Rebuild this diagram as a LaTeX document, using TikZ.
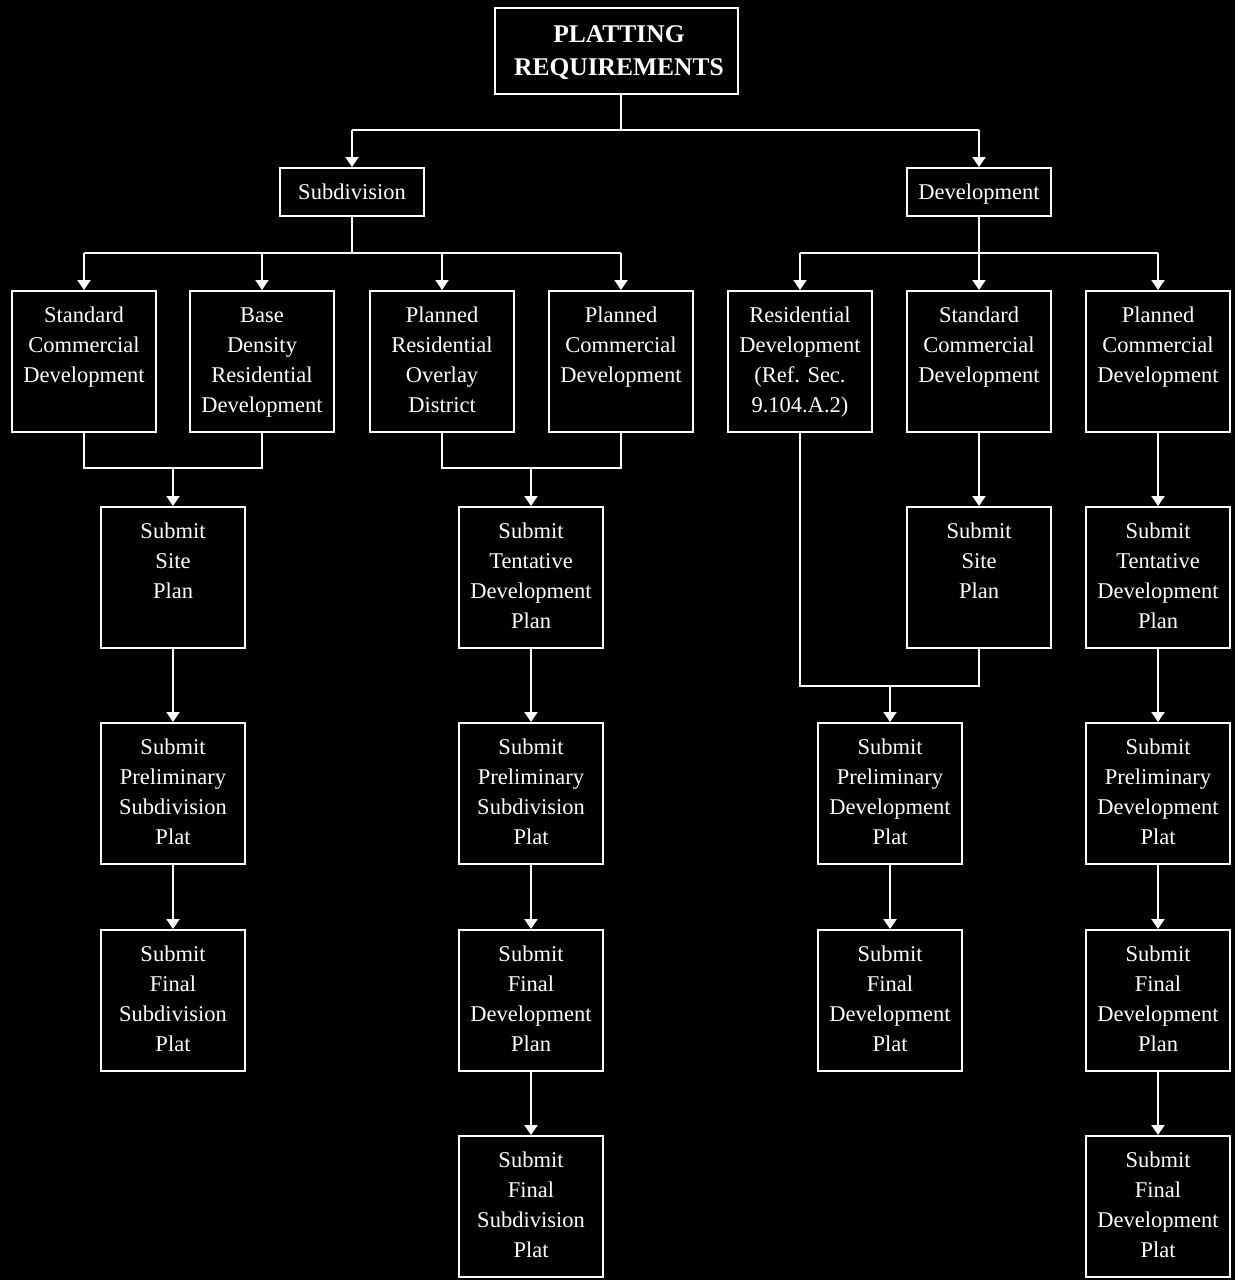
\documentclass[tikz,border=0pt]{standalone}
\usepackage{fontspec}
\setmainfont{Liberation Serif}
\usetikzlibrary{arrows.meta}
\begin{document}
\begin{tikzpicture}[x=1pt,y=-1pt,
 box/.style={draw=white,line width=2pt,minimum width=144pt,minimum height=141pt,inner sep=0pt},
 sbox/.style={draw=white,line width=2pt,minimum width=144pt,minimum height=48pt,inner sep=0pt,text=white,text height=20pt,text depth=5pt,font=\fontsize{22.5}{30}\selectfont},
 tbox/.style={draw=white,line width=2pt,minimum width=243pt,minimum height=86pt,inner sep=0pt},
 ttxt/.style={text=white,align=center,inner sep=0pt,font=\fontsize{25.5}{33}\selectfont\bfseries},
 txt/.style={text=white,align=center,inner sep=0pt,anchor=north,font=\fontsize{22.5}{30}\selectfont},
 ln/.style={draw=white,line width=2pt},
 arr/.style={draw=white,line width=2pt,-{Triangle[width=13pt,length=10pt]}}]
\fill[black] (0,0) rectangle (1235,1280);
% top
\node[tbox] (title) at (616.5,51) {};
\node[ttxt] (ttl) at (619,53) {PLATTING\\REQUIREMENTS};
\node[sbox] (sub) at (352,192) {Subdivision};
\node[sbox] (dev) at (979,192) {Development};
% row 2
\node[box] (b1) at (84,361.5) {};
\node[box] (b2) at (262,361.5) {};
\node[box] (b3) at (442,361.5) {};
\node[box] (b4) at (621,361.5) {};
\node[box] (b5) at (800,361.5) {};
\node[box] (b6) at (979,361.5) {};
\node[box] (b7) at (1158,361.5) {};
\node[txt] (t1) at (84,307) {Standard\\Commercial\\Development};
\node[txt] (t2) at (262,308) {Base\\Density\\Residential\\Development};
\node[txt] (t3) at (442,307) {Planned\\Residential\\Overlay\\District};
\node[txt] (t4) at (621,307) {Planned\\Commercial\\Development};
\node[txt] (t5) at (800,307) {Residential\\Development\\(Ref. Sec.\\9.104.A.2)};
\node[txt] (t6) at (979,307) {Standard\\Commercial\\Development};
\node[txt] (t7) at (1158,307) {Planned\\Commercial\\Development};
% row 3
\node[box] (c1) at (173,577.5) {};
\node[box] (c2) at (531,577.5) {};
\node[box] (c3) at (979,577.5) {};
\node[box] (c4) at (1158,577.5) {};
\node[txt] (u1) at (173,523) {Submit\\Site\\Plan};
\node[txt] (u2) at (531,523) {Submit\\Tentative\\Development\\Plan};
\node[txt] (u3) at (979,523) {Submit\\Site\\Plan};
\node[txt] (u4) at (1158,523) {Submit\\Tentative\\Development\\Plan};
% row 4
\node[box] (d1) at (173,793.5) {};
\node[box] (d2) at (531,793.5) {};
\node[box] (d3) at (890,793.5) {};
\node[box] (d4) at (1158,793.5) {};
\node[txt] (v1) at (173,739) {Submit\\Preliminary\\Subdivision\\Plat};
\node[txt] (v2) at (531,739) {Submit\\Preliminary\\Subdivision\\Plat};
\node[txt] (v3) at (890,739) {Submit\\Preliminary\\Development\\Plat};
\node[txt] (v4) at (1158,739) {Submit\\Preliminary\\Development\\Plat};
% row 5
\node[box] (e1) at (173,1000.5) {};
\node[box] (e2) at (531,1000.5) {};
\node[box] (e3) at (890,1000.5) {};
\node[box] (e4) at (1158,1000.5) {};
\node[txt] (w1) at (173,946) {Submit\\Final\\Subdivision\\Plat};
\node[txt] (w2) at (531,946) {Submit\\Final\\Development\\Plan};
\node[txt] (w3) at (890,946) {Submit\\Final\\Development\\Plat};
\node[txt] (w4) at (1158,946) {Submit\\Final\\Development\\Plan};
% row 6
\node[box] (f2) at (531,1206.5) {};
\node[box] (f4) at (1158,1206.5) {};
\node[txt] (x2) at (531,1152) {Submit\\Final\\Subdivision\\Plat};
\node[txt] (x4) at (1158,1152) {Submit\\Final\\Development\\Plat};
% junctions
\coordinate (j0) at (621,130);
\coordinate (j1) at (352,253);
\coordinate (j2) at (979,253);
\coordinate (j3) at (173,468);
\coordinate (j4) at (531,468);
\coordinate (j5) at (890,686);
% connectors top
\draw[ln] (title.south -| j0) -- (j0);
\draw[ln] (sub.north |- j0) -- (dev.north |- j0);
\draw[arr] (sub.north |- j0) -- (sub.north);
\draw[arr] (dev.north |- j0) -- (dev.north);
% subdivision to row 2
\draw[ln] (sub.south) -- (j1);
\draw[ln] (b1.north |- j1) -- (b4.north |- j1);
\draw[arr] (b1.north |- j1) -- (b1.north);
\draw[arr] (b2.north |- j1) -- (b2.north);
\draw[arr] (b3.north |- j1) -- (b3.north);
\draw[arr] (b4.north |- j1) -- (b4.north);
% development to row 2
\draw[ln] (dev.south) -- (j2);
\draw[ln] (b5.north |- j2) -- (b7.north |- j2);
\draw[arr] (b5.north |- j2) -- (b5.north);
\draw[arr] (b6.north |- j2) -- (b6.north);
\draw[arr] (b7.north |- j2) -- (b7.north);
% merges to row 3
\draw[ln] (b1.south) -- (b1.south |- j3) -- (b2.south |- j3) -- (b2.south);
\draw[arr] (j3) -- (c1.north);
\draw[ln] (b3.south) -- (b3.south |- j4) -- (b4.south |- j4) -- (b4.south);
\draw[arr] (j4) -- (c2.north);
\draw[arr] (b6.south) -- (c3.north);
\draw[arr] (b7.south) -- (c4.north);
% merge to row 4 (development)
\draw[ln] (b5.south) -- (b5.south |- j5) -- (c3.south |- j5) -- (c3.south);
\draw[arr] (j5) -- (d3.north);
% columns
\draw[arr] (c1.south) -- (d1.north);
\draw[arr] (d1.south) -- (e1.north);
\draw[arr] (c2.south) -- (d2.north);
\draw[arr] (d2.south) -- (e2.north);
\draw[arr] (e2.south) -- (f2.north);
\draw[arr] (d3.south) -- (e3.north);
\draw[arr] (c4.south) -- (d4.north);
\draw[arr] (d4.south) -- (e4.north);
\draw[arr] (e4.south) -- (f4.north);
\end{tikzpicture}
\end{document}
